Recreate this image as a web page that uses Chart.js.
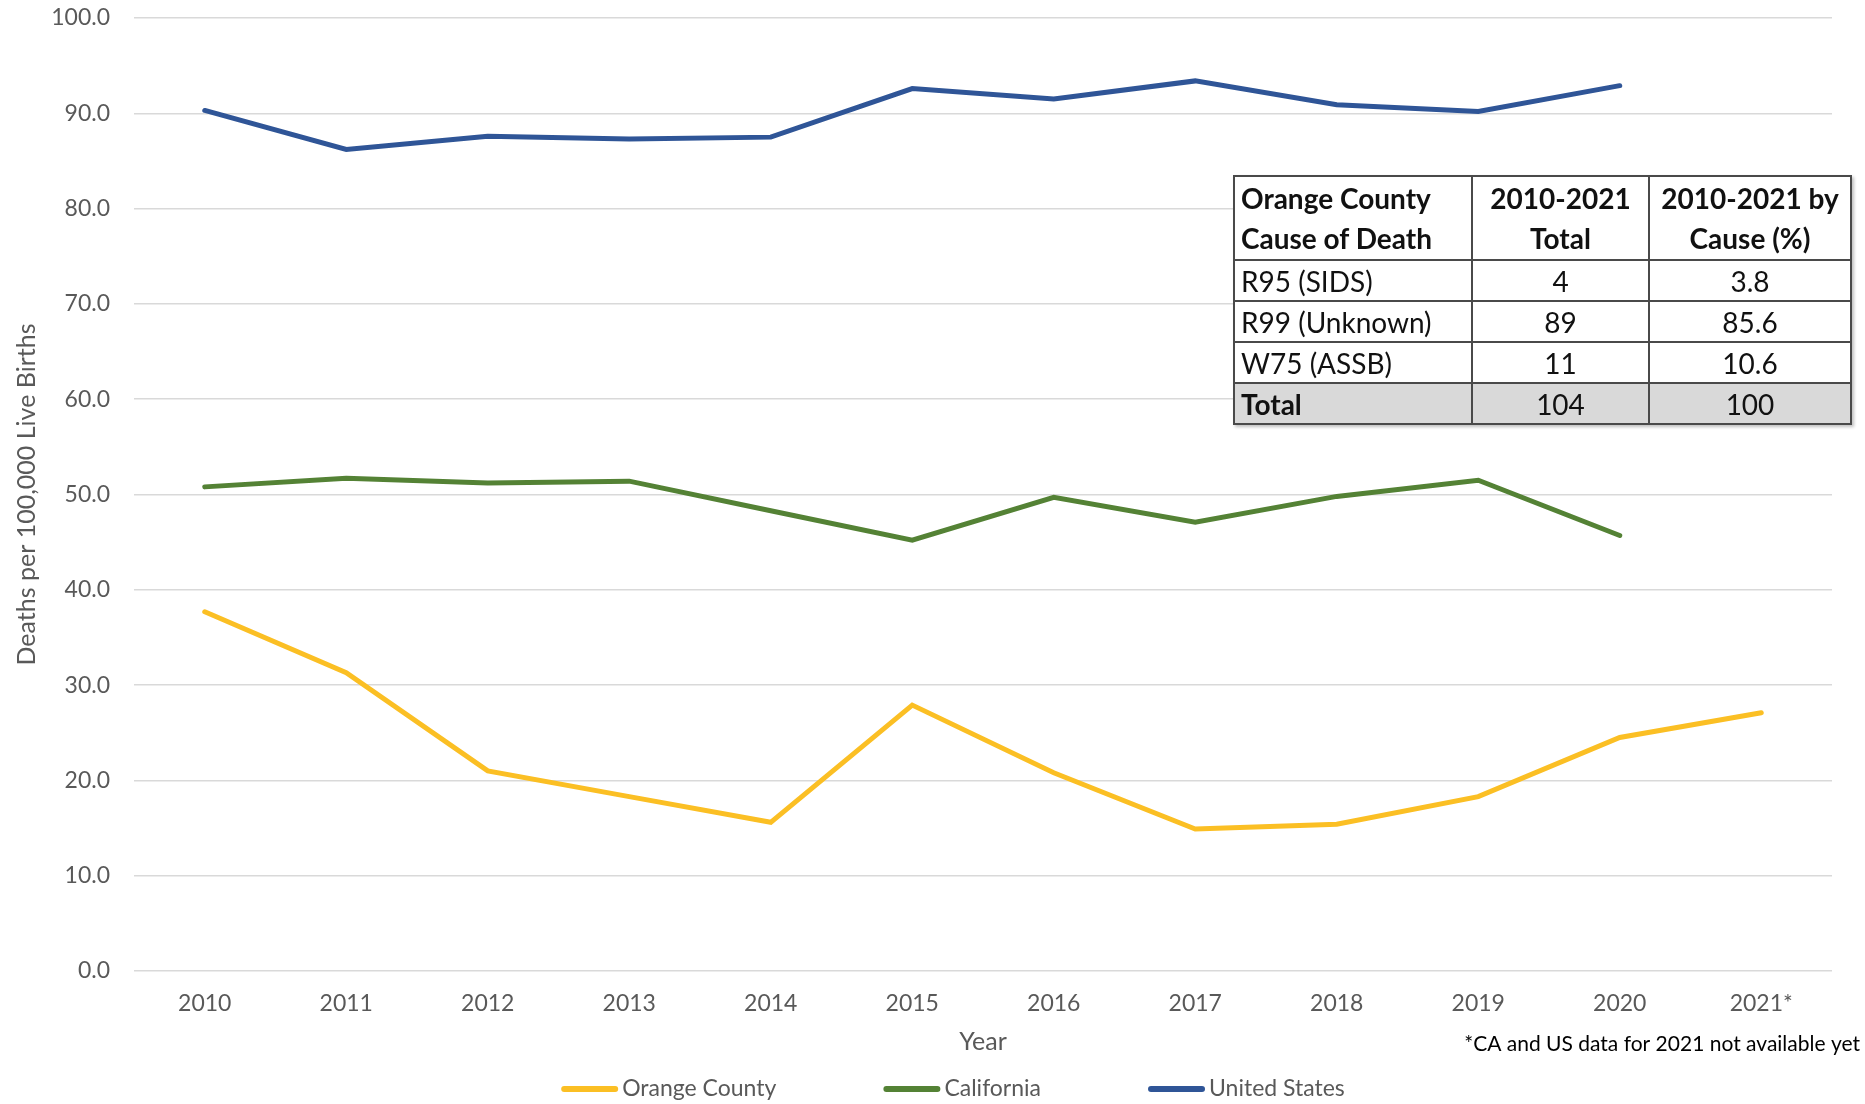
<!DOCTYPE html>
<html lang="en">
<head>
    <meta charset="UTF-8">
    <title>Sudden Unexpected Infant Deaths</title>
    <script src="https://cdnjs.cloudflare.com/ajax/libs/chart.js/4.4.1/chart.umd.min.js"></script>
    <style>
        body {
            margin: 0;
            background: #fff;
            font-family: Lato, 'Open Sans', sans-serif;
        }

        .wrap {
            position: relative;
            width: 1865px;
            height: 1104px;
        }

        #causeTable {
            position: absolute;
            left: 1233px;
            top: 175px;
            border-collapse: collapse;
            background: #fff;
            font-size: 28px;
            color: #111;
            box-shadow: 2px 2px 3px rgba(0, 0, 0, 0.25);
        }

        #causeTable td, #causeTable th {
            border: 2px solid #4a4a4a;
            padding: 0 6px;
            height: 39px;
            line-height: 30px;
            white-space: nowrap;
        }

        #causeTable th {
            font-weight: bold;
            height: 82px;
            line-height: 40px;
            text-align: center;
        }

        #causeTable th:first-child, #causeTable td:first-child {
            text-align: left;
        }

        #causeTable td {
            text-align: center;
        }

        #causeTable tr.total td {
            background: #d9d9d9;
        }

        #causeTable tr.total td:first-child {
            font-weight: bold;
        }
    </style>
</head>
<body>
    <div class="wrap">
        <canvas id="sudiChart" width="1865" height="1104"></canvas>
        <table id="causeTable"></table>
    </div>

    <script>
        const years = ['2010', '2011', '2012', '2013', '2014', '2015', '2016', '2017', '2018', '2019', '2020', '2021*'];
        const orangeCounty = [37.7, 31.3, 21.0, 18.3, 15.6, 27.9, 20.8, 14.9, 15.4, 18.3, 24.5, 27.1];
        const california = [50.8, 51.7, 51.2, 51.4, 48.3, 45.2, 49.7, 47.1, 49.8, 51.5, 45.7, null];
        const unitedStates = [90.3, 86.2, 87.6, 87.3, 87.5, 92.6, 91.5, 93.4, 90.9, 90.2, 92.9, null];

        const tableHeader = ['Orange County<br>Cause of Death', '2010-2021<br>Total', '2010-2021 by<br>Cause (%)'];
        const causes = ['R95 (SIDS)', 'R99 (Unknown)', 'W75 (ASSB)', 'Total'];
        const causeTotals = [4, 89, 11, 104];
        const causePercents = ['3.8', '85.6', '10.6', '100'];

        const footnote = '*CA and US data for 2021 not available yet';

        // build the cause-of-death table
        const table = document.getElementById('causeTable');
        let html = '<tr>' + tableHeader.map(h => '<th>' + h + '</th>').join('') + '</tr>';
        causes.forEach((c, i) => {
            const cls = c === 'Total' ? ' class="total"' : '';
            html += '<tr' + cls + '><td style="width:224px">' + c + '</td><td style="width:163px">' + causeTotals[i] +
                '</td><td style="width:188px">' + causePercents[i] + '</td></tr>';
        });
        table.innerHTML = html;

        // footnote + Excel-style legend (wide gaps, line swatches)
        const extrasPlugin = {
            id: 'extras',
            afterDraw(chart) {
                const ctx = chart.ctx;
                ctx.save();
                ctx.font = '21px Lato, sans-serif';
                ctx.fillStyle = '#000';
                ctx.textAlign = 'right';
                ctx.textBaseline = 'middle';
                ctx.fillText(footnote, 1860, 1044);

                const swatch = 57, gap = 4, itemGap = 107, legendY = 1089;
                ctx.font = '23px Lato, sans-serif';
                const sets = chart.data.datasets;
                const widths = sets.map(ds => swatch + gap + ctx.measureText(ds.label).width);
                const total = widths.reduce((a, b) => a + b, 0) + itemGap * (sets.length - 1);
                let x = 953 - total / 2;
                ctx.textAlign = 'left';
                sets.forEach((ds, i) => {
                    ctx.strokeStyle = ds.borderColor;
                    ctx.lineWidth = 6;
                    ctx.lineCap = 'round';
                    ctx.beginPath();
                    ctx.moveTo(x + 3, legendY);
                    ctx.lineTo(x + swatch - 3, legendY);
                    ctx.stroke();
                    ctx.fillStyle = '#595959';
                    ctx.fillText(ds.label, x + swatch + gap, legendY);
                    x += widths[i] + itemGap;
                });
                ctx.restore();
            }
        };

        function series(label, data, color) {
            return {
                label: label,
                data: data,
                borderColor: color,
                backgroundColor: color,
                borderWidth: 5,
                borderCapStyle: 'round',
                borderJoinStyle: 'miter',
                pointRadius: 0,
                tension: 0,
                spanGaps: false
            };
        }

        const ctx = document.getElementById('sudiChart').getContext('2d');
        new Chart(ctx, {
            type: 'line',
            data: {
                labels: years,
                datasets: [
                    series('Orange County', orangeCounty, '#fbbf24'),
                    series('California', california, '#548235'),
                    series('United States', unitedStates, '#2f5597')
                ]
            },
            options: {
                responsive: false,
                animation: false,
                layout: {
                    padding: { top: 18, bottom: 43, left: 0, right: 33 }
                },
                plugins: {
                    legend: { display: false },
                    tooltip: { enabled: false }
                },
                scales: {
                    x: {
                        offset: true,
                        border: { display: false },
                        grid: { display: false, drawTicks: false },
                        ticks: {
                            color: '#595959',
                            padding: 19,
                            maxRotation: 0,
                            font: { family: 'Lato', size: 23 }
                        },
                        title: {
                            display: true,
                            text: 'Year',
                            color: '#595959',
                            font: { family: 'Lato', size: 25 },
                            padding: { top: 0, bottom: 4 }
                        },
                        afterFit: function(scale) {
                            scale.height = 90;
                        }
                    },
                    y: {
                        min: 0,
                        max: 100,
                        border: { display: false },
                        grid: { color: '#d9d9d9', lineWidth: 1.5, drawTicks: false },
                        ticks: {
                            stepSize: 10,
                            color: '#595959',
                            padding: 24,
                            font: { family: 'Lato', size: 23 },
                            callback: function(value) {
                                return value.toFixed(1);
                            }
                        },
                        title: {
                            display: true,
                            text: 'Deaths per 100,000 Live Births',
                            color: '#595959',
                            font: { family: 'Lato', size: 25 },
                            padding: { top: 12, bottom: 0 }
                        },
                        afterFit: function(scale) {
                            scale.width = 134;
                            scale.paddingTop = 0;
                        }
                    }
                }
            },
            plugins: [extrasPlugin]
        });
    </script>
</body>
</html>
